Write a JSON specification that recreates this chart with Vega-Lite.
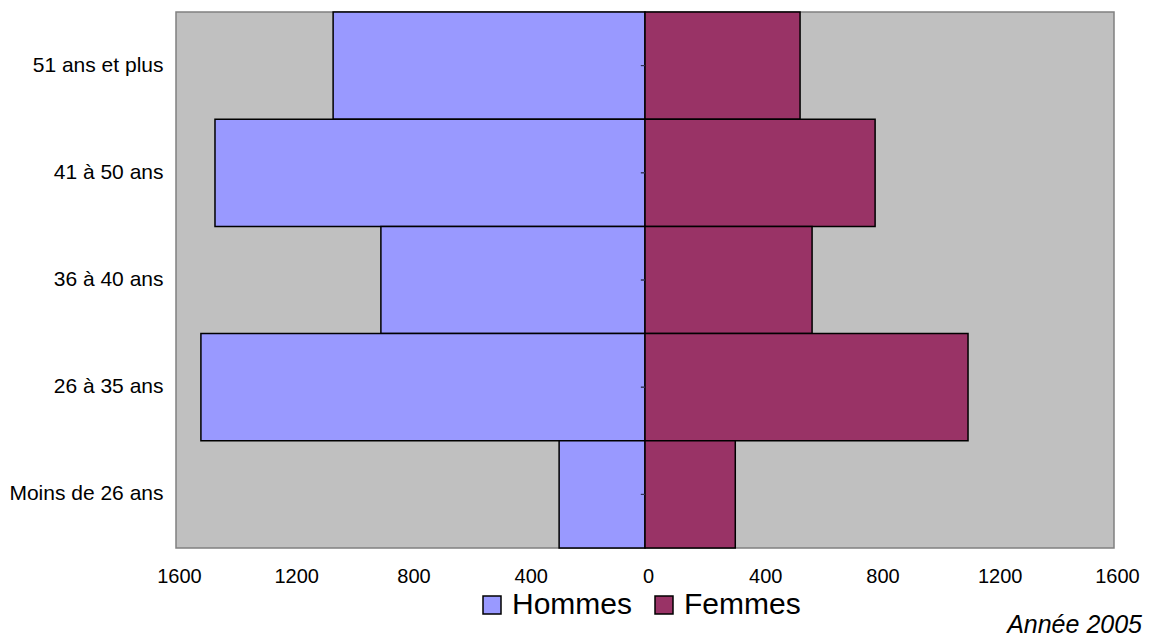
{
  "$schema": "https://vega.github.io/schema/vega-lite/v6.json",
  "width": 938,
  "height": 536,
  "autosize": "none",
  "padding": {"left": 176, "top": 12, "right": 36, "bottom": 91},
  "background": "white",
  "config": {
    "font": "Liberation Sans",
    "view": {"fill": "#c0c0c0", "stroke": "#808080", "strokeWidth": 1.5}
  },
  "title": {
    "text": "Année 2005",
    "orient": "bottom",
    "anchor": "end",
    "frame": "group",
    "fontSize": 25,
    "fontStyle": "italic",
    "fontWeight": "normal",
    "color": "black",
    "offset": -7,
    "dx": 28
  },
  "data": {
    "values": [
      {"age": "51 ans et plus", "sexe": "Hommes", "value": -1064},
      {"age": "51 ans et plus", "sexe": "Femmes", "value": 529},
      {"age": "41 à 50 ans", "sexe": "Hommes", "value": -1467},
      {"age": "41 à 50 ans", "sexe": "Femmes", "value": 785},
      {"age": "36 à 40 ans", "sexe": "Hommes", "value": -901},
      {"age": "36 à 40 ans", "sexe": "Femmes", "value": 570},
      {"age": "26 à 35 ans", "sexe": "Hommes", "value": -1515},
      {"age": "26 à 35 ans", "sexe": "Femmes", "value": 1102},
      {"age": "Moins de 26 ans", "sexe": "Hommes", "value": -293},
      {"age": "Moins de 26 ans", "sexe": "Femmes", "value": 308}
    ]
  },
  "layer": [
    {
      "mark": {"type": "bar", "stroke": "black", "strokeWidth": 1.5},
      "encoding": {
        "y": {
          "field": "age",
          "type": "nominal",
          "sort": ["51 ans et plus", "41 à 50 ans", "36 à 40 ans", "26 à 35 ans", "Moins de 26 ans"],
          "scale": {"paddingInner": 0, "paddingOuter": 0},
          "axis": {"title": null, "ticks": false, "domain": false, "labelFontSize": 21, "labelColor": "black", "labelPadding": 13}
        },
        "x": {
          "field": "value",
          "type": "quantitative",
          "scale": {"domain": [-1600, 1600], "nice": false},
          "axis": {
            "title": null,
            "values": [-1600, -1200, -800, -400, 0, 400, 800, 1200, 1600],
            "labelExpr": "abs(datum.value)",
            "ticks": false,
            "domain": false,
            "grid": false,
            "labelFlush": false,
            "labelOffset": 3,
            "labelFontSize": 20,
            "labelColor": "black",
            "labelPadding": 18
          }
        },
        "color": {
          "field": "sexe",
          "type": "nominal",
          "scale": {"domain": ["Hommes", "Femmes"], "range": ["#9999ff", "#993366"]},
          "legend": {
            "title": null,
            "orient": "none",
            "direction": "horizontal",
            "legendX": 301,
            "legendY": 578,
            "symbolType": "square",
            "symbolSize": 324,
            "symbolStrokeColor": "black",
            "symbolStrokeWidth": 1.5,
            "labelFontSize": 30,
            "labelColor": "black",
            "labelOffset": 5,
            "columnPadding": 16
          }
        }
      }
    },
    {
      "mark": {"type": "rule", "color": "#333355", "strokeWidth": 1},
      "encoding": {
        "y": {"field": "age", "type": "nominal", "sort": ["51 ans et plus", "41 à 50 ans", "36 à 40 ans", "26 à 35 ans", "Moins de 26 ans"]},
        "x": {"datum": -14},
        "x2": {"datum": 0}
      }
    }
  ]
}
